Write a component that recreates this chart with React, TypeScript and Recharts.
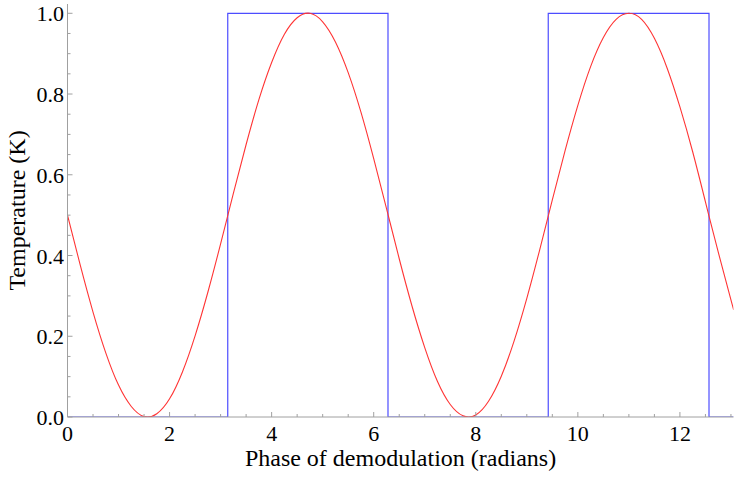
import React from 'react';
import { LineChart, Line, XAxis, YAxis, Label } from 'recharts';

// Red curve (phase in radians -> temperature in K)
const phase = [
  0, 0.25, 0.5, 0.75, 1.0, 1.25, 1.5, 1.75, 2.0, 2.25, 2.5, 2.75, 3.0, 3.25,
  3.5, 3.75, 4.0, 4.25, 4.5, 4.75, 5.0, 5.25, 5.5, 5.75, 6.0, 6.25, 6.5, 6.75,
  7.0, 7.25, 7.5, 7.75, 8.0, 8.25, 8.5, 8.75, 9.0, 9.25, 9.5, 9.75, 10.0,
  10.25, 10.5, 10.75, 11.0, 11.25, 11.5, 11.75, 12.0, 12.25, 12.5, 12.75,
  13.0, 13.05,
];
const temperature = [
  0.5, 0.376, 0.26, 0.159, 0.079, 0.026, 0.001, 0.008, 0.045, 0.111, 0.201,
  0.309, 0.429, 0.554, 0.675, 0.786, 0.878, 0.948, 0.989, 1.0, 0.979, 0.929,
  0.853, 0.755, 0.64, 0.517, 0.392, 0.275, 0.172, 0.088, 0.031, 0.003, 0.005,
  0.039, 0.101, 0.188, 0.294, 0.413, 0.538, 0.66, 0.772, 0.868, 0.94, 0.985,
  1.0, 0.985, 0.938, 0.864, 0.768, 0.657, 0.533, 0.409, 0.29, 0.267,
];

// Blue square wave corners
const squarePhase = [0, 3.14, 3.14, 6.28, 6.28, 9.42, 9.42, 12.57, 12.57, 13.05];
const squareLevel = [0, 0, 1, 1, 0, 0, 1, 1, 0, 0];

const xTicks = [
  0, 0.5, 1, 1.5, 2, 2.5, 3, 3.5, 4, 4.5, 5, 5.5, 6, 6.5, 7, 7.5, 8, 8.5, 9,
  9.5, 10, 10.5, 11, 11.5, 12, 12.5, 13,
];
const xLabels = [0, 2, 4, 6, 8, 10, 12];
const yTicks = [
  0, 0.05, 0.1, 0.15, 0.2, 0.25, 0.3, 0.35, 0.4, 0.45, 0.5, 0.55, 0.6, 0.65,
  0.7, 0.75, 0.8, 0.85, 0.9, 0.95, 1.0,
];
const yLabels = [0, 0.2, 0.4, 0.6, 0.8, 1.0];

const sineData = phase.map((x, i) => ({ x, y: temperature[i] }));
const squareData = squarePhase.map((x, i) => ({ x, y: squareLevel[i] }));

const FRAME = '#a0a0a0';
const FONT = "'Liberation Serif', 'Times New Roman', 'DejaVu Serif', serif";
const textStyle = (size: number) => ({ fontFamily: FONT, fontSize: size, fill: '#000' });
const X_DOMAIN = [0, 13.05];
const Y_DOMAIN = [0, 1.023];

const near = (v: number, list: number[]) => list.some((t) => Math.abs(t - v) < 1e-6);

const BottomTick = (props: any) => {
  const { x, y, payload } = props;
  const major = near(payload.value, xLabels);
  return (
    <g>
      <line x1={x} x2={x} y1={y} y2={y - (major ? 5 : 3)} stroke={FRAME} />
      {major && (
        <text x={x} y={y + 24} textAnchor="middle" style={textStyle(22)}>
          {payload.value}
        </text>
      )}
    </g>
  );
};

const TopTick = (props: any) => {
  const { x, y, payload } = props;
  const major = near(payload.value, xLabels);
  return <line x1={x} x2={x} y1={y} y2={y + (major ? 5 : 3)} stroke={FRAME} />;
};

const LeftTick = (props: any) => {
  const { x, y, payload } = props;
  const major = near(payload.value, yLabels);
  return (
    <g>
      <line x1={x} x2={x + (major ? 5 : 3)} y1={y} y2={y} stroke={FRAME} />
      {major && (
        <text x={x - 3.5} y={y + 8} textAnchor="end" style={textStyle(22)}>
          {payload.value.toFixed(1)}
        </text>
      )}
    </g>
  );
};

const RightTick = (props: any) => {
  const { x, y, payload } = props;
  const major = near(payload.value, yLabels);
  return <line x1={x} x2={x - (major ? 5 : 3)} y1={y} y2={y} stroke={FRAME} />;
};

export default function App() {
  return (
    <div style={{ position: 'absolute', left: 0, top: 0, width: 736, height: 479, background: '#fff', fontFamily: FONT }}>
      <LineChart width={736} height={479} margin={{ top: 4, right: 2.5, bottom: 0, left: 0 }}>
        <XAxis
          dataKey="x"
          type="number"
          domain={X_DOMAIN}
          ticks={xTicks}
          interval={0}
          height={62}
          stroke={FRAME}
          tickLine={false}
          tickSize={0}
          tickMargin={0}
          tick={<BottomTick />}
          allowDataOverflow
        >
          <Label
            content={({ viewBox }: any) => (
              <text
                x={viewBox.x + viewBox.width / 2}
                y={viewBox.y + viewBox.height - 13}
                textAnchor="middle"
                style={textStyle(24)}
              >
                Phase of demodulation (radians)
              </text>
            )}
          />
        </XAxis>
        <XAxis
          xAxisId="top"
          orientation="top"
          type="number"
          domain={X_DOMAIN}
          ticks={xTicks}
          interval={0}
          height={0}
          stroke={FRAME}
          tickLine={false}
          tickSize={0}
          tickMargin={0}
          tick={<TopTick />}
          allowDataOverflow
        />
        <YAxis
          type="number"
          domain={Y_DOMAIN}
          ticks={yTicks}
          interval={0}
          width={67.5}
          stroke={FRAME}
          tickLine={false}
          tickSize={0}
          tickMargin={0}
          tick={<LeftTick />}
          allowDataOverflow
        >
          <Label
            content={({ viewBox }: any) => {
              const cy = viewBox.y + viewBox.height / 2;
              return (
                <text
                  x={24.5}
                  y={cy}
                  transform={`rotate(-90, 24.5, ${cy})`}
                  textAnchor="middle"
                  style={textStyle(24)}
                >
                  Temperature (K)
                </text>
              );
            }}
          />
        </YAxis>
        <YAxis
          yAxisId="right"
          orientation="right"
          type="number"
          domain={Y_DOMAIN}
          ticks={yTicks}
          interval={0}
          width={0}
          stroke={FRAME}
          tickLine={false}
          tickSize={0}
          tickMargin={0}
          tick={<RightTick />}
          allowDataOverflow
        />
        <Line
          data={squareData}
          dataKey="y"
          type="linear"
          stroke="#4d4dff"
          strokeWidth={1.2}
          dot={false}
          isAnimationActive={false}
        />
        <Line
          data={sineData}
          dataKey="y"
          type="natural"
          stroke="#ff3535"
          strokeWidth={1.1}
          dot={false}
          isAnimationActive={false}
        />
      </LineChart>
    </div>
  );
}
